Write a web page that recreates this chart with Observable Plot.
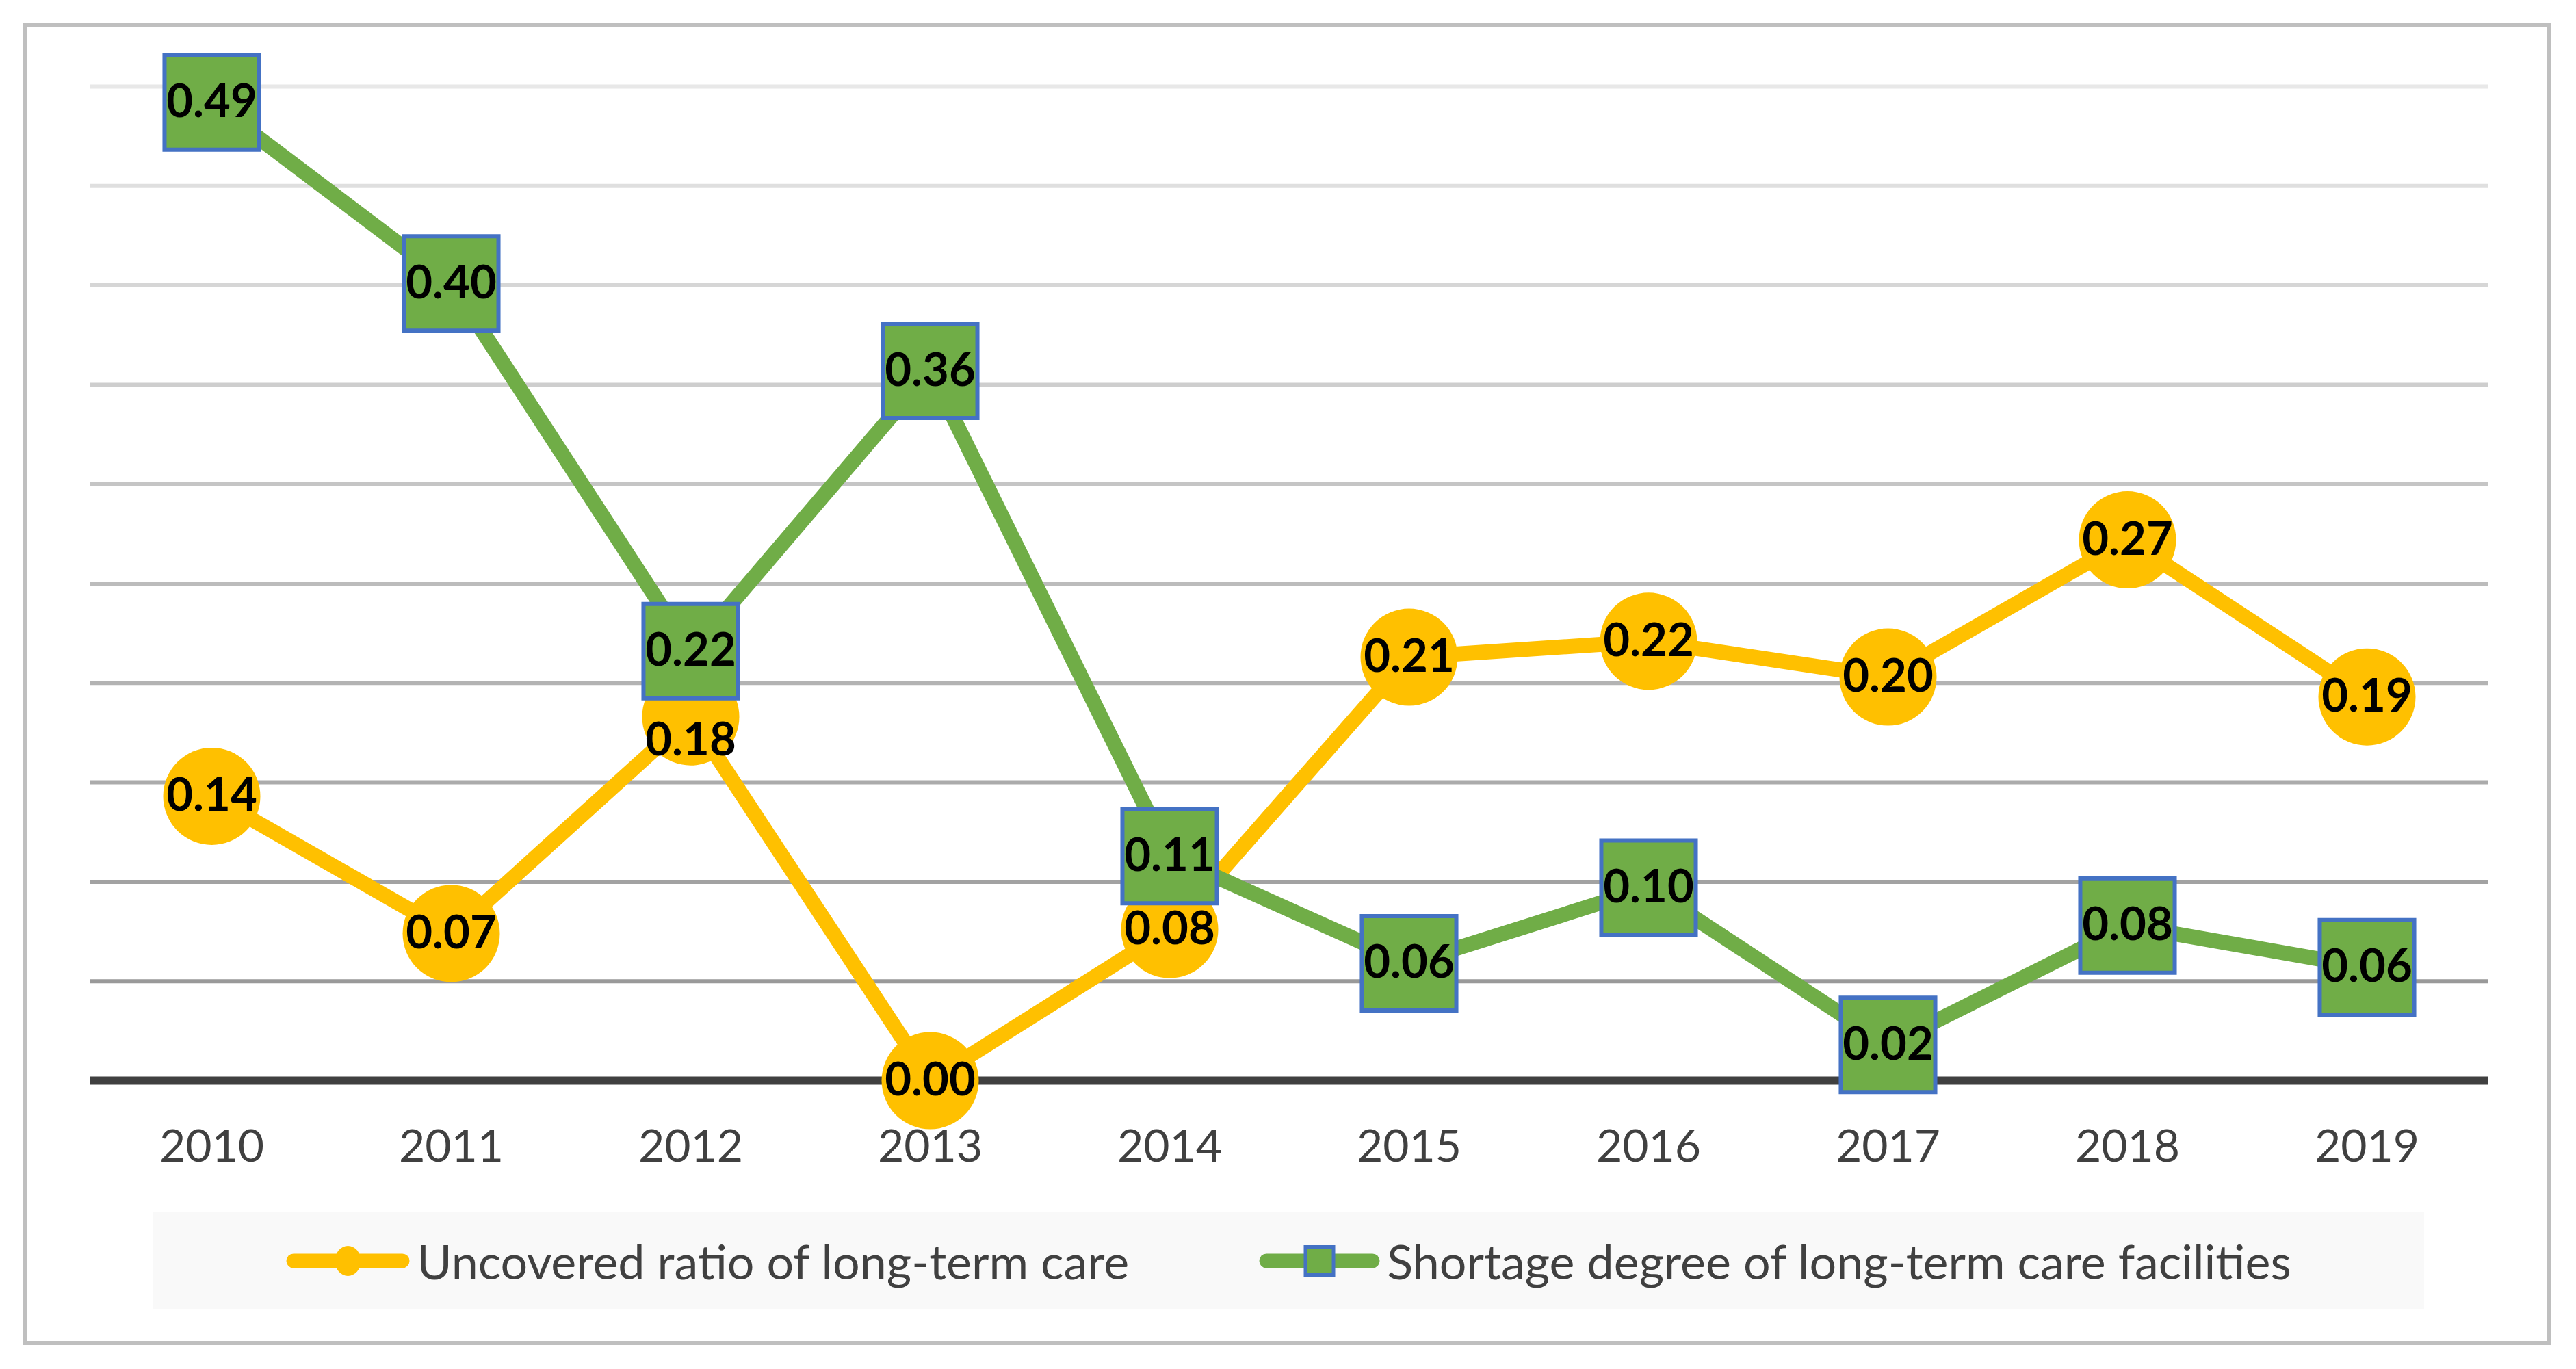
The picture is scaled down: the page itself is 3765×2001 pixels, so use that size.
<!DOCTYPE html>
<html>
<head>
<meta charset="utf-8">
<script src="https://cdn.jsdelivr.net/npm/d3@7"></script>
<script src="https://cdn.jsdelivr.net/npm/@observablehq/plot@0.6"></script>
<style>
  html, body { margin: 0; padding: 0; background: #ffffff; }
  body { width: 3765px; height: 2001px; position: relative; overflow: hidden; font-family: Lato, "Open Sans", sans-serif; }
  #frame { position: absolute; left: 34px; top: 33px; width: 3695px; height: 1933px; box-sizing: border-box; border: 6px solid #bfbfbf; }
  #chart { position: absolute; left: 0; top: 0; }
  #legend { position: absolute; left: 224px; top: 1772px; width: 3319px; height: 141px; background: #f9f9f9;
            display: flex; align-items: center; justify-content: center; gap: 190px; color: #404040; font-size: 70px; }
  .item { display: flex; align-items: center; gap: 10px; white-space: nowrap; }
  .item svg { display: block; }
</style>
</head>
<body>
<div id="frame"></div>
<div id="chart"></div>
<div id="legend"></div>
<script>
const years = ["2010","2011","2012","2013","2014","2015","2016","2017","2018","2019"];
const uncoveredRatio = [0.143, 0.074, 0.183, 0.000, 0.076, 0.213, 0.221, 0.203, 0.272, 0.193];
const shortageDegree = [0.492, 0.401, 0.216, 0.357, 0.113, 0.059, 0.097, 0.018, 0.078, 0.057];
const gridTicks = [0.05, 0.10, 0.15, 0.20, 0.25, 0.30, 0.35, 0.40, 0.45, 0.50];
const seriesNames = ["Uncovered ratio of long-term care", "Shortage degree of long-term care facilities"];

const yellow = "#FFC000", green = "#70AD47", blue = "#4472C4";
const fmt = d3.format(".2f");

const uData = years.map((y, i) => ({year: y, v: uncoveredRatio[i]}));
const sData = years.map((y, i) => ({year: y, v: shortageDegree[i]}));
const gridColor = d3.interpolateRgb("#999999", "#e8e8e8");

const chart = Plot.plot({
  width: 3765,
  height: 1740,
  marginLeft: 131,
  marginRight: 128,
  marginTop: 126,
  marginBottom: 161,
  style: {fontFamily: "Lato, 'Open Sans', sans-serif", background: "transparent", color: "#404040"},
  x: {type: "point", domain: years, padding: 0.5, label: null},
  y: {domain: [0, 0.5], axis: null},
  marks: [
    Plot.ruleY(gridTicks, {stroke: d => gridColor((d - 0.05) / 0.45), strokeWidth: 6}),
    Plot.ruleY([0], {stroke: "#404040", strokeWidth: 12}),
    Plot.axisX({tickSize: 0, tickPadding: 72, fontSize: 66, label: null}),
    Plot.line(uData, {x: "year", y: "v", stroke: yellow, strokeWidth: 22, strokeLinejoin: "round"}),
    Plot.dot(uData, {x: "year", y: "v", r: 71, fill: yellow, symbol: "circle"}),
    Plot.line(sData, {x: "year", y: "v", stroke: green, strokeWidth: 22, strokeLinejoin: "round"}),
    Plot.dot(sData, {x: "year", y: "v", r: 77.9, symbol: "square", fill: green, stroke: blue, strokeWidth: 6}),
    Plot.text(uData.filter(d => d.year !== "2012"), {x: "year", y: "v", text: d => fmt(d.v), fontSize: 67, fontWeight: "bold", fill: "#000"}),
    Plot.text(uData.filter(d => d.year === "2012"), {x: "year", y: "v", text: d => fmt(d.v), fontSize: 67, fontWeight: "bold", fill: "#000", dy: 35}),
    Plot.text(sData, {x: "year", y: "v", text: d => fmt(d.v), fontSize: 67, fontWeight: "bold", fill: "#000"})
  ]
});
document.getElementById("chart").appendChild(chart);

// Legend (HTML, below the SVG)
const legend = document.getElementById("legend");
const ns = "http://www.w3.org/2000/svg";
function item(name, kind) {
  const div = document.createElement("div");
  div.className = "item";
  const svg = document.createElementNS(ns, "svg");
  const w = kind === "circle" ? 181 : 177;
  svg.setAttribute("width", w);
  svg.setAttribute("height", 60);
  const line = document.createElementNS(ns, "line");
  line.setAttribute("x1", 11); line.setAttribute("x2", w - 11);
  line.setAttribute("y1", 30); line.setAttribute("y2", 30);
  line.setAttribute("stroke", kind === "circle" ? yellow : green);
  line.setAttribute("stroke-width", 21);
  line.setAttribute("stroke-linecap", "round");
  svg.appendChild(line);
  if (kind === "circle") {
    const c = document.createElementNS(ns, "ellipse");
    c.setAttribute("cx", w / 2); c.setAttribute("cy", 30);
    c.setAttribute("rx", 19); c.setAttribute("ry", 22);
    c.setAttribute("fill", yellow);
    svg.appendChild(c);
  } else {
    const r = document.createElementNS(ns, "rect");
    r.setAttribute("x", w / 2 - 20.5); r.setAttribute("y", 9.5);
    r.setAttribute("width", 41); r.setAttribute("height", 41);
    r.setAttribute("fill", green); r.setAttribute("stroke", blue); r.setAttribute("stroke-width", 5);
    svg.appendChild(r);
  }
  div.appendChild(svg);
  const span = document.createElement("span");
  span.textContent = name;
  div.appendChild(span);
  return div;
}
legend.appendChild(item(seriesNames[0], "circle"));
legend.appendChild(item(seriesNames[1], "square"));
</script>
</body>
</html>
